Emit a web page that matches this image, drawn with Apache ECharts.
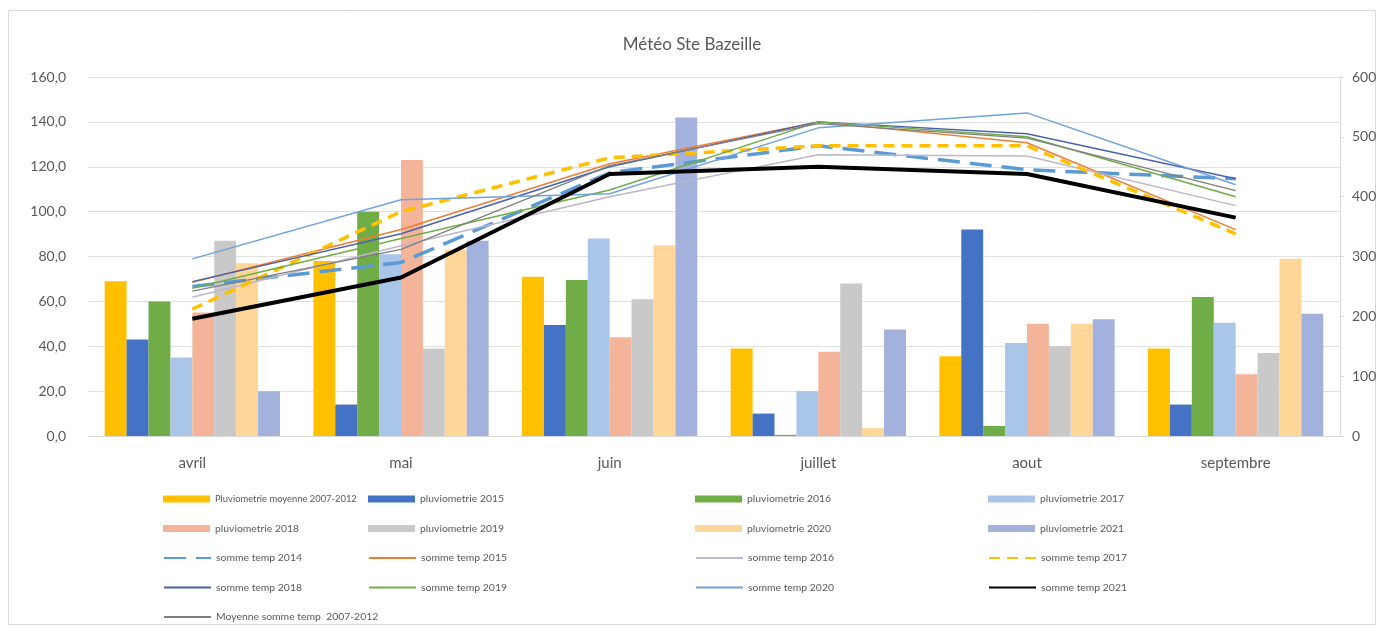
<!DOCTYPE html>
<html>
<head>
<meta charset="utf-8">
<script src="https://cdn.jsdelivr.net/npm/echarts@6/dist/echarts.min.js"></script>
<style>html,body{margin:0;padding:0;background:#fff}#c{width:1384px;height:631px}</style>
</head>
<body>
<div id="c"></div>
<script>
const categories = ['avril','mai','juin','juillet','aout','septembre'];
const leftTicks = [0,20,40,60,80,100,120,140,160];
const rightTicks = [0,100,200,300,400,500,600];

// Pluviométrie (mm) – left axis
const pluvioMoy = [69, 78, 71, 39, 35.5, 39];
const pluvio2015 = [43, 14, 49.5, 10, 92, 14];
const pluvio2016 = [60, 100, 69.5, 0.5, 4.5, 62];
const pluvio2017 = [35, 81, 88, 20, 41.5, 50.5];
const pluvio2018 = [55, 123, 44, 37.5, 50, 27.5];
const pluvio2019 = [87, 39, 61, 68, 40, 37];
const pluvio2020 = [77, 83, 85, 3.5, 50, 79];
const pluvio2021 = [20, 87, 142, 47.5, 52, 54.5];

// Somme températures – right axis
const temp2014 = [250, 290, 440, 485, 445, 430];
const temp2015 = [257, 345, 455, 525, 490, 345];
const temp2016 = [232, 318, 400, 470, 468, 385];
const temp2017 = [212, 375, 465, 485, 485, 338];
const temp2018 = [258, 338, 450, 525, 505, 430];
const temp2019 = [247, 330, 411, 525, 500, 400];
const temp2020 = [296, 395, 405, 515, 540, 420];
const temp2021 = [196, 265, 438, 450, 438, 365];
const tempMoy = [242, 312, 452, 522, 498, 410];

const barDefs = [
  ['Pluviometrie moyenne 2007-2012', pluvioMoy, '#FFC000'],
  ['pluviometrie 2015', pluvio2015, '#4472C4'],
  ['pluviometrie 2016', pluvio2016, '#70AD47'],
  ['pluviometrie 2017', pluvio2017, '#A9C6E8'],
  ['pluviometrie 2018', pluvio2018, '#F4B49A'],
  ['pluviometrie 2019', pluvio2019, '#C9C9C9'],
  ['pluviometrie 2020', pluvio2020, '#FFD699'],
  ['pluviometrie 2021', pluvio2021, '#A2B2DC']
];
const lineDefs = [
  ['somme temp 2014', temp2014, '#5B9BD5', 3.5, [22, 10]],
  ['somme temp 2015', temp2015, '#ED7D31', 1.5, 'solid'],
  ['somme temp 2016', temp2016, '#BDB6CC', 1.5, 'solid'],
  ['somme temp 2017', temp2017, '#FFC000', 3.5, [11, 7]],
  ['somme temp 2018', temp2018, '#4A62AE', 1.5, 'solid'],
  ['somme temp 2019', temp2019, '#70AD47', 1.5, 'solid'],
  ['somme temp 2020', temp2020, '#6FA3DA', 1.5, 'solid'],
  ['somme temp 2021', temp2021, '#000000', 4, 'solid'],
  ['Moyenne somme temp  2007-2012', tempMoy, '#7F7F7F', 1.3, 'solid']
];

const series = [];
barDefs.forEach(d => series.push({
  name: d[0], type: 'bar', data: d[1], yAxisIndex: 0,
  barGap: '0%', barCategoryGap: '16%',
  itemStyle: {color: d[2]}
}));
lineDefs.forEach(d => series.push({
  name: d[0], type: 'line', data: d[1], yAxisIndex: 1,
  symbol: 'none', z: 5,
  lineStyle: {color: d[2], width: d[3], type: d[4]},
  itemStyle: {color: d[2]}
}));

const allNames = barDefs.map(d => d[0]).concat(lineDefs.map(d => d[0]));
const colLeft = [158, 363, 690, 983];
const rowTop = [487, 516.5, 546, 575.5, 605];
const legends = allNames.map((n, i) => {
  const isBar = i < barDefs.length;
  return {
    orient: 'horizontal', itemWidth: 47, itemHeight: 7, selectedMode: false,
    textStyle: {fontFamily: 'Lato', fontSize: i === 0 ? 9.4 : 10.4, color: '#595959', lineHeight: 14},
    left: colLeft[i % 4], top: rowTop[Math.floor(i / 4)],
    data: [isBar ? {name: n, icon: 'rect'} : {name: n, itemStyle: {opacity: 0}}]
  };
});

const chart = echarts.init(document.getElementById('c'));
chart.setOption({
  animation: false,
  backgroundColor: '#fff',
  textStyle: {fontFamily: 'Lato'},
  title: {
    text: 'Météo Ste Bazeille', left: 'center', top: 31,
    textStyle: {fontFamily: 'Lato', fontSize: 17, fontWeight: 'normal', color: '#595959'}
  },
  graphic: [{
    type: 'rect', shape: {x: 8.5, y: 10.5, width: 1367, height: 614},
    style: {fill: 'none', stroke: '#D9D9D9', lineWidth: 1}, silent: true, z: -10
  }],
  legend: legends,
  grid: {left: 88, right: 44, top: 77, bottom: 195},
  xAxis: {
    type: 'category', data: categories,
    axisLine: {lineStyle: {color: '#D9D9D9'}},
    axisTick: {show: false},
    axisLabel: {fontFamily: 'Lato', fontSize: 15, color: '#595959', margin: 20}
  },
  yAxis: [{
    type: 'value', min: leftTicks[0], max: leftTicks[leftTicks.length - 1], interval: 20,
    axisLine: {show: false}, axisTick: {show: false},
    splitLine: {lineStyle: {color: '#E0E0E0'}},
    axisLabel: {
      fontFamily: 'Lato', fontSize: 14, color: '#595959', margin: 22,
      formatter: v => v.toFixed(1).replace('.', ',')
    }
  }, {
    type: 'value', min: rightTicks[0], max: rightTicks[rightTicks.length - 1], interval: 100,
    position: 'right',
    axisLine: {show: true, lineStyle: {color: '#D9D9D9'}},
    axisTick: {show: true, length: 4, lineStyle: {color: '#D9D9D9'}},
    splitLine: {show: false},
    axisLabel: {fontFamily: 'Lato', fontSize: 14, color: '#595959', margin: 12}
  }],
  series: series
});
</script>
</body>
</html>
